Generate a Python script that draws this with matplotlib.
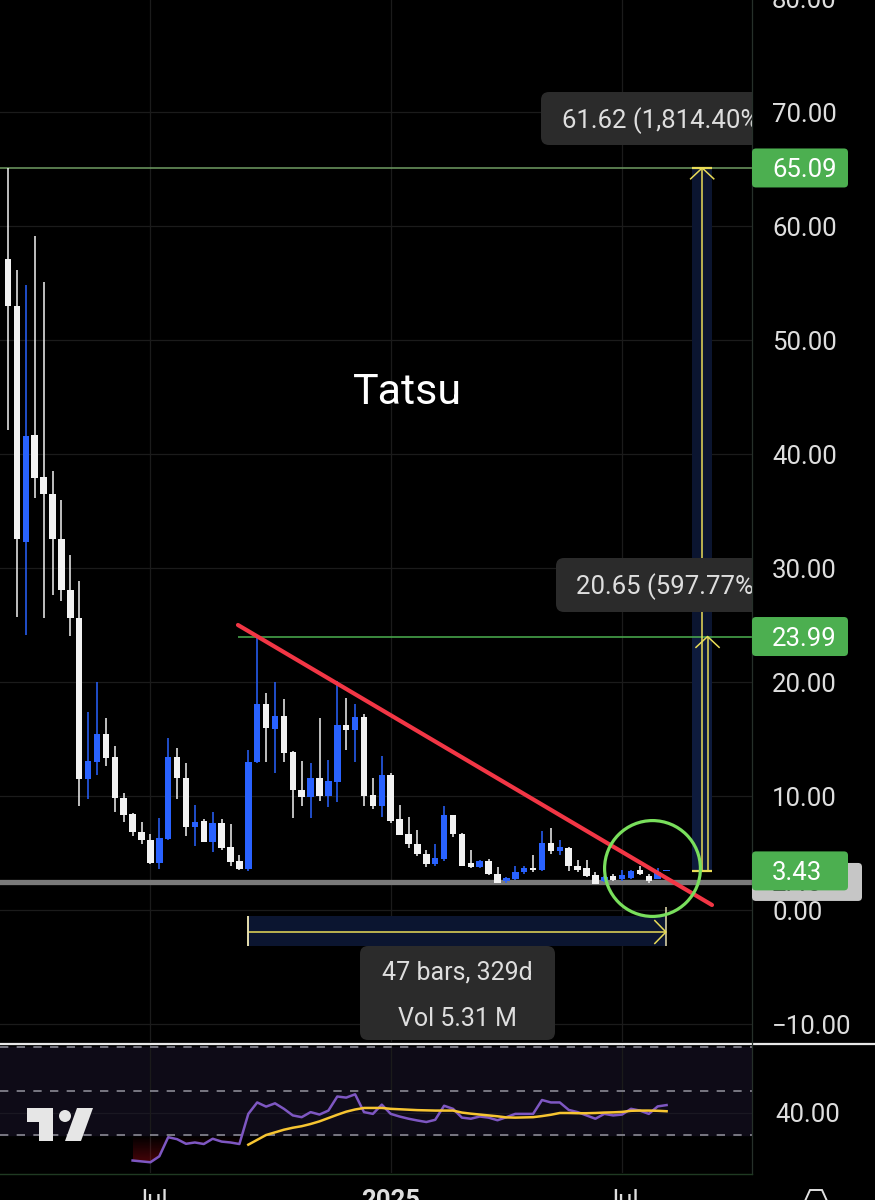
import numpy as np
import matplotlib
matplotlib.use("Agg")
import matplotlib.pyplot as plt
from matplotlib import transforms
from matplotlib.patches import FancyBboxPatch, Rectangle, Polygon, Circle
from matplotlib.lines import Line2D
from matplotlib.path import Path
from matplotlib.colors import LinearSegmentedColormap

plt.rcParams['font.family'] = ['Roboto', 'DejaVu Sans']

# weekly candles (price)
opens = [57.1, 53.0, 32.3, 41.7, 38.0, 36.5, 32.5, 28.1, 25.6, 11.5,
         13.0, 15.4, 13.4, 9.8, 8.4, 6.8, 6.1, 4.1, 6.2, 13.4,
         11.6, 7.3, 7.8, 6.0, 7.65, 5.5, 4.3, 3.6, 13.0, 18.1,
         15.9, 17.0, 13.9, 10.5, 9.9, 11.6, 10.0, 11.25, 16.2, 15.8,
         16.9, 10.1, 9.1, 11.8, 7.95, 6.7, 5.8, 4.9, 4.0, 4.5,
         8.3, 6.7, 4.1, 3.8, 4.3, 3.2, 2.5, 2.7, 3.3, 3.7,
         3.5, 5.9, 5.2, 5.4, 3.9, 3.65, 3.1, 2.5, 3.0, 2.7,
         2.8, 3.5, 3.0, 2.7, 3.38]
highs = [65.09, 56.1, 54.8, 59.1, 55.1, 38.5, 36.0, 31.1, 28.9, 17.4,
         20.0, 16.8, 14.4, 10.3, 8.5, 7.7, 6.7, 8.1, 15.1, 14.2,
         12.9, 9.2, 7.95, 8.6, 8.0, 7.5, 4.8, 14.0, 23.99, 19.0,
         20.0, 18.5, 13.95, 13.1, 12.9, 16.8, 13.2, 20.1, 18.6, 18.1,
         17.2, 11.6, 13.5, 12.0, 9.2, 8.2, 7.0, 5.3, 5.75, 9.1,
         8.35, 6.75, 5.3, 4.4, 4.5, 3.8, 2.9, 3.9, 3.9, 4.8,
         6.9, 7.2, 6.1, 5.55, 4.4, 4.4, 3.3, 3.0, 3.2, 3.5,
         3.55, 3.85, 3.2, 3.7, 3.5]
lows = [42.1, 25.7, 24.1, 36.1, 25.6, 27.6, 27.1, 24.0, 9.1, 9.7,
        11.8, 12.6, 8.6, 7.7, 6.5, 5.8, 4.0, 3.6, 6.1, 9.7,
        6.5, 5.6, 6.0, 5.1, 5.3, 3.9, 3.55, 3.4, 12.9, 13.0,
        12.0, 13.0, 8.1, 9.1, 8.1, 9.6, 9.0, 9.5, 14.0, 13.0,
        9.1, 8.9, 8.2, 7.65, 6.55, 5.4, 4.7, 3.8, 3.9, 4.3,
        6.4, 3.85, 3.65, 3.7, 3.1, 2.35, 2.4, 2.65, 3.2, 3.35,
        3.4, 4.9, 4.8, 3.4, 3.35, 2.9, 2.25, 2.45, 2.55, 2.55,
        2.75, 3.1, 2.4, 2.7, 3.38]
closes = [53.0, 32.5, 41.6, 37.9, 36.5, 32.5, 28.1, 25.6, 11.5, 13.1,
          15.4, 13.3, 9.8, 8.3, 6.8, 6.1, 4.1, 6.3, 13.4, 11.6,
          7.3, 7.7, 6.0, 7.65, 5.4, 4.2, 3.6, 13.0, 18.1, 16.0,
          17.0, 13.8, 10.5, 9.9, 11.6, 10.0, 11.3, 16.2, 15.8, 16.9,
          10.0, 9.1, 11.8, 7.8, 6.6, 5.75, 4.9, 4.0, 4.6, 8.3,
          6.7, 3.9, 3.8, 4.3, 3.2, 2.4, 2.8, 3.35, 3.7, 3.5,
          5.9, 5.2, 5.5, 3.9, 3.5, 3.0, 2.3, 2.9, 2.6, 3.1,
          3.45, 3.15, 2.55, 3.35, 3.45]

# RSI pane
rsi_start = 14
rsi = [18.4, 18.0, 17.6, 20.3, 29.0, 28.1, 26.0, 26.6, 25.9, 28.3,
       27.0, 26.6, 25.9, 39.6, 44.8, 42.9, 44.4, 41.9, 38.9, 38.1,
       40.4, 39.3, 41.1, 47.5, 47.0, 48.5, 40.4, 39.6, 43.8, 39.6,
       38.4, 37.4, 36.6, 35.9, 36.9, 43.3, 41.9, 37.9, 37.4, 38.4,
       37.9, 36.7, 38.1, 39.6, 39.6, 39.6, 45.9, 44.8, 44.8, 41.4,
       40.4, 38.9, 37.4, 39.6, 38.9, 39.3, 41.9, 41.1, 39.6, 43.0,
       43.6]
rsi_ma_start = 27
rsi_ma = [25.6, 27.8, 30.0, 31.2, 32.4, 33.3, 34.0, 35.0, 36.2, 37.7,
          39.2, 40.6, 41.6, 42.3, 42.3, 42.3, 41.9, 41.7, 41.5, 41.3,
          41.2, 41.1, 41.1, 41.1, 40.2, 39.7, 39.3, 38.9, 38.5, 38.0,
          37.9, 38.0, 38.1, 38.6, 39.2, 40.0, 40.0, 39.9, 39.9, 40.0,
          40.2, 40.3, 40.5, 41.0, 41.1, 41.1, 41.0, 40.8]

price_ticks = [-10, 0, 10, 20, 30, 40, 50, 60, 70, 80]
rsi_tick = 40
time_ticks = [16, 43, 69]
time_labels = ['Jul', '2025', 'Jul']

top_level = 65.09
mid_level = 23.99
last_price = 3.43
support_level = 2.46
range_labels = ['61.62 (1,814.40%)', '20.65 (597.77%)']
bars_label = ['47 bars, 329d', 'Vol 5.31 M']
trend_x = [25.84, 79.1]
trend_y = [25.0, 0.44]

# ---- layout (pixel mapping of the screenshot) ----
W, H = 875, 1200
X0, DX = 8.0, 8.9          # px of bar 0, px per bar
Y0, DY = 910.0, 11.4       # px of price 0, px per unit
PANE_R = 752
MAIN_B = 1042
R0, RDY = 1091.0, 2.2      # rsi 50 px, px per rsi unit
RSI_T, RSI_B = 1045, 1173


def bx(i):
    return X0 + DX * i


def py(p):
    return Y0 - DY * p


def ry(v):
    return R0 - RDY * (v - 50)


BLACK = '#000000'
GRID = '#1b1b1b'
TXT = '#dedede'
YEL = '#e9dc58'
GREEN = '#4caf50'
BOXC = '#2b2b2b'
FS = 18.5

fig = plt.figure(figsize=(W / 100, H / 100), dpi=100, facecolor=BLACK)
PX = transforms.Affine2D().scale(1 / W, -1 / H).translate(0, 1) + fig.transFigure

ax = fig.add_axes([0, 1 - MAIN_B / H, PANE_R / W, MAIN_B / H])
ax.set_facecolor(BLACK)
ax.set_xlim(-X0 / DX, (PANE_R - X0) / DX)
ax.set_ylim((Y0 - MAIN_B) / DY, Y0 / DY)
ax.set_xticks([])
ax.set_yticks([])
for s in ax.spines.values():
    s.set_visible(False)

for p in price_ticks:
    ax.axhline(p, color=GRID, lw=0.9, zorder=0)
for t in time_ticks:
    ax.axvline(t, color=GRID, lw=0.9, zorder=0)

# price range tool (vertical)
tool_x0, tool_x1, tool_xm, tool_xm2 = 76.85, 79.1, 78.0, 78.6
ax.add_patch(Rectangle((tool_x0, last_price), tool_x1 - tool_x0, top_level - last_price,
                       fc='#0b1530', ec='none', zorder=1))
ax.add_patch(Rectangle((tool_x0, last_price), tool_x1 - tool_x0, mid_level - last_price,
                       fc='#12214a', ec='none', alpha=0.5, zorder=1))

# level lines
ax.axhline(top_level, color='#6f9c63', lw=1.1, zorder=2)
ax.hlines(mid_level, 25.84, 90, color=GREEN, lw=1.1, zorder=2)
ax.axhline(support_level, color='#7a7a7a', lw=3.8, zorder=2)

# candles
x = np.arange(len(opens))
o = np.array(opens)
c = np.array(closes)
up = c > o
col = np.where(up, '#2962ff', '#f2f2f2')
ax.vlines(x, lows, highs, colors=col, lw=1.1, zorder=3)
body = np.maximum(np.abs(c - o), 0.12)
ax.bar(x, body, bottom=np.minimum(o, c), width=0.74, color=col, zorder=3, linewidth=0)

# trend line + circle
ax.plot(trend_x, trend_y, color='#f23645', lw=3.0, solid_capstyle='round', zorder=5)
ax.plot(72.36, 3.68, 'o', ms=69, mfc='none', mec='#79df5c', mew=2.3, zorder=6)

# measure lines (vertical)
ax.vlines(tool_xm, last_price, top_level, color=YEL, lw=1.1, zorder=4)
ax.vlines(tool_xm2, last_price, mid_level, color=YEL, lw=1.1, zorder=4)
ax.hlines([top_level, last_price], tool_x0, tool_x1, color=YEL, lw=1.6, zorder=4)
for xm, lv in [(tool_xm, top_level), (tool_xm2, mid_level)]:
    ax.plot([xm - 1.3, xm, xm + 1.3], [lv - 0.95, lv, lv - 0.95], color=YEL, lw=1.1, zorder=4)

# bars range tool (horizontal)
br0, br1 = 26.93, 73.93
by0, by1 = -0.53, -3.2
bym = -1.93
ax.add_patch(Rectangle((br0, by1), br1 - br0, by0 - by1, fc='#0b1530', ec='none', zorder=1))
ax.hlines(bym, br0, br1, color=YEL, lw=1.1, zorder=4)
ax.vlines(br0, by1, by0, color='#e6dfae', lw=1.4, zorder=4)
ax.vlines(br1, by1, by0 + 0.8, color='#e6dfae', lw=1.1, zorder=4)
ax.plot([br1 - 1.25, br1, br1 - 1.25], [bym + 1.0, bym, bym - 1.0], color=YEL, lw=1.1, zorder=4)

# range labels (clipped by the price axis)
for (bx0, by_, bw, bh, tx), s in zip([(541, 92, 240, 53, 562), (556, 558, 230, 54, 576)], range_labels):
    bp = FancyBboxPatch((bx0, by_), bw, bh, boxstyle='round,pad=0,rounding_size=8',
                        transform=PX, fc=BOXC, ec='none', zorder=7)
    ax.add_patch(bp)
    t = ax.text(tx, by_ + bh / 2 + 9.5, s, transform=PX, color=TXT, fontsize=FS,
                va='baseline', ha='left', zorder=8, clip_on=True)
    t.set_clip_path(ax.patch)

ax.text(408, 393, 'Tatsu', transform=PX, color='white', fontsize=31,
        ha='center', va='center', zorder=8)

# bars label box
fig.add_artist(FancyBboxPatch((360, 946), 195, 94, boxstyle='round,pad=0,rounding_size=8',
                              transform=PX, fc=BOXC, ec='none', zorder=7))
fig.text(457, 970 + 9.5, bars_label[0], transform=PX, color=TXT, fontsize=FS - 0.5,
         ha='center', va='baseline', zorder=8)
fig.text(457, 1016 + 9.5, bars_label[1], transform=PX, color=TXT, fontsize=FS - 0.5,
         ha='center', va='baseline', zorder=8)

# ---- price axis ----
for p in price_ticks:
    fig.text(772, py(p) + 9.5, f"{p:.2f}".replace('-', '\u2212'), transform=PX,
             color=TXT, fontsize=FS, ha='left', va='baseline')

fig.add_artist(FancyBboxPatch((752, py(support_level) - 19), 110, 38,
                              boxstyle='round,pad=0,rounding_size=4', transform=PX,
                              fc='#c6c6c6', ec='none', zorder=3))
fig.text(772, py(support_level) + 9.5, f"{support_level:.2f}", transform=PX,
         color='#4a4a4a', fontsize=FS, ha='left', va='baseline', zorder=3)
for lv in [top_level, mid_level, last_price]:
    fig.add_artist(FancyBboxPatch((752, py(lv) - 19.5), 96, 39,
                                  boxstyle='round,pad=0,rounding_size=4', transform=PX,
                                  fc=GREEN, ec='none', zorder=4))
    fig.text(772, py(lv) + 9.5, f"{lv:.2f}", transform=PX, color='white',
             fontsize=FS, ha='left', va='baseline', zorder=5)

# ---- RSI pane ----
ax2 = fig.add_axes([0, 1 - RSI_B / H, PANE_R / W, (RSI_B - RSI_T) / H])
ax2.set_facecolor(BLACK)
ax2.set_xticks([])
ax2.set_yticks([])
for s in ax2.spines.values():
    s.set_visible(False)
ax2.axhspan(30, 70, color='#0e0b17', zorder=0)
ax2.axhline(rsi_tick, color='#1a1822', lw=0.9, zorder=0)
for t in time_ticks:
    ax2.axvline(t, color=GRID, lw=0.9, zorder=0)
for lv in [70, 50, 30]:
    ax2.axhline(lv, color='#8a8a95', lw=1.2, ls=(0, (5, 5)), zorder=1)

rx = np.arange(rsi_start, rsi_start + len(rsi))
rv = np.array(rsi)
fb = ax2.fill_between(rx, rv, 30, where=rv < 30, interpolate=True, facecolor='none', edgecolor='none')
cmap = LinearSegmentedColormap.from_list('os', [(0.8, 0.05, 0.1, 0.85), (0.8, 0.05, 0.1, 0.0)])
im = ax2.imshow(np.linspace(0, 1, 200).reshape(-1, 1), extent=[rx[0], rx[-1], 0, 30],
                origin='lower', cmap=cmap, aspect='auto', zorder=1)
paths = fb.get_paths()
if paths:
    im.set_clip_path(Path.make_compound_path(*paths), transform=ax2.transData)

ax2.plot(rx, rv, color='#7e57c2', lw=1.8, zorder=3)
ax2.plot(np.arange(rsi_ma_start, rsi_ma_start + len(rsi_ma)), rsi_ma, color='#f7c531', lw=1.8, zorder=4)
ax2.set_xlim(-X0 / DX, (PANE_R - X0) / DX)
ax2.set_ylim(50 - (RSI_B - R0) / RDY, 50 + (R0 - RSI_T) / RDY)

fig.text(775, ry(rsi_tick) + 9.5, f"{rsi_tick:.2f}", transform=PX, color=TXT,
         fontsize=FS, ha='left', va='baseline')

# TradingView logo
LOGO = '#e6e6e6'
fig.add_artist(Polygon([(27, 1108), (53, 1108), (53, 1141), (39, 1141), (39, 1122), (27, 1122)],
                       closed=True, transform=PX, fc=LOGO, ec='none'))
fig.add_artist(Circle((65, 1116), 6, transform=PX, fc=LOGO, ec='none'))
fig.add_artist(Polygon([(65, 1141), (81, 1141), (93, 1108), (77, 1108)],
                       closed=True, transform=PX, fc=LOGO, ec='none'))

# frame lines
fig.add_artist(Line2D([0, W], [1043.5, 1043.5], transform=PX, color='#e8e8e8', lw=1.6))
fig.add_artist(Line2D([PANE_R, PANE_R], [0, 1174], transform=PX, color='#26302a', lw=0.9))
fig.add_artist(Line2D([0, PANE_R], [1174, 1174], transform=PX, color='#1f3a22', lw=1.0))

# time axis (cut by the bottom edge)
for t, lab in zip(time_ticks, time_labels):
    fig.text(bx(t), 1189, lab, transform=PX, color=TXT, fontsize=FS, ha='center', va='top',
             fontweight='bold' if lab.isdigit() else 'normal')
fig.add_artist(Polygon([(805, 1201), (810, 1190), (822, 1190), (827, 1201)], closed=False,
                       transform=PX, fc='none', ec='#e0e0e0', lw=1.4))

fig.savefig('out.png', dpi=100, facecolor=BLACK)
